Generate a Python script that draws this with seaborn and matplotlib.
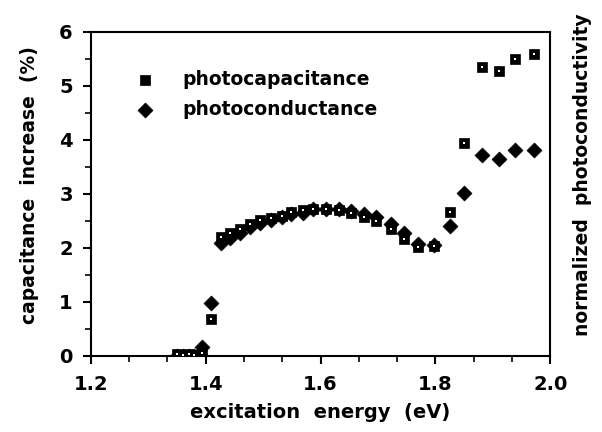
import numpy as np
import pandas as pd
import seaborn as sns
import matplotlib.pyplot as plt
from matplotlib.ticker import MultipleLocator, AutoMinorLocator

# excitation energy (eV)
energy = [1.350, 1.360, 1.370, 1.380, 1.394, 1.409, 1.427, 1.442, 1.459, 1.477,
          1.494, 1.514, 1.532, 1.549, 1.569, 1.587, 1.610, 1.632, 1.653, 1.675,
          1.697, 1.723, 1.745, 1.770, 1.798, 1.826, 1.850, 1.881, 1.910, 1.939,
          1.972]
# capacitance increase (%)
photocapacitance = [0.03, 0.02, 0.03, 0.02, 0.05, 0.68, 2.20, 2.27, 2.36, 2.45,
                    2.51, 2.55, 2.60, 2.66, 2.70, 2.72, 2.72, 2.70, 2.64, 2.58,
                    2.50, 2.36, 2.17, 2.02, 2.04, 2.66, 3.94, 5.36, 5.28, 5.50,
                    5.59]
# normalized photoconductivity (same scale)
photoconductance = [0.00, 0.00, 0.00, 0.00, 0.16, 0.99, 2.09, 2.18, 2.27, 2.38,
                    2.46, 2.52, 2.57, 2.62, 2.65, 2.72, 2.72, 2.72, 2.68, 2.62,
                    2.57, 2.44, 2.28, 2.07, 2.05, 2.41, 3.01, 3.72, 3.65, 3.81,
                    3.81]

df = pd.DataFrame({"energy": energy,
                   "photocapacitance": photocapacitance,
                   "photoconductance": photoconductance})

sns.set_style("white")
plt.rcParams['font.family'] = ['DejaVu Sans']
plt.rcParams['font.weight'] = 'bold'
plt.rcParams['text.color'] = 'black'
plt.rcParams['axes.labelcolor'] = 'black'
plt.rcParams['xtick.color'] = 'black'
plt.rcParams['ytick.color'] = 'black'

fig = plt.figure(figsize=(6.02, 4.32), dpi=100)
ax = fig.add_axes([0.151, 0.176, 0.763, 0.750])

sns.scatterplot(data=df, x="energy", y="photoconductance", marker="D", s=58,
                color="black", edgecolor="black", linewidth=0.5, ax=ax,
                label="photoconductance", zorder=3)
sns.scatterplot(data=df, x="energy", y="photocapacitance", marker="s", s=60,
                color="black", edgecolor="black", linewidth=0.5, ax=ax,
                label="photocapacitance", zorder=4)
# small white mark inside the squares
ax.scatter(df["energy"], df["photocapacitance"], marker="s", s=4,
           color="white", linewidth=0, zorder=5)

ax.set_xlim(1.2, 2.0)
ax.set_ylim(0, 6)
ax.xaxis.set_minor_locator(AutoMinorLocator(3))
ax.yaxis.set_major_locator(MultipleLocator(1))
ax.yaxis.set_minor_locator(AutoMinorLocator(2))
ax.set_xticks([1.2, 1.4, 1.6, 1.8, 2.0])
ax.set_xticklabels(["1.2", "1.4", "1.6", "1.8", "2.0"])
ax.xaxis.set_minor_locator(AutoMinorLocator(3))

ax.tick_params(which="major", direction="out", length=6, width=1.5,
               labelsize=14, pad=8, color="black", labelcolor="black")
ax.tick_params(which="minor", direction="out", length=4, width=1.2,
               color="black")
ax.tick_params(axis="y", pad=7)
ax.tick_params(bottom=True, left=True, which="both")
for sp in ax.spines.values():
    sp.set_linewidth(1.5)
    sp.set_color("black")

ax.set_xlabel("excitation  energy  (eV)", fontsize=14, fontweight="bold",
              labelpad=6, color="black")
ax.set_ylabel("")
ax.text(-0.133, 0.528, "capacitance  increase  (%)", transform=ax.transAxes,
        rotation=90, ha="center", va="center", fontsize=13.5,
        fontweight="bold", color="black")
ax.text(1.07, 0.56, "normalized  photoconductivity", transform=ax.transAxes,
        rotation=90, ha="center", va="center", fontsize=13.5,
        fontweight="bold", color="black")

handles, labels = ax.get_legend_handles_labels()
order = [labels.index("photocapacitance"), labels.index("photoconductance")]
leg = ax.legend([handles[i] for i in order], [labels[i] for i in order],
                loc="upper left", bbox_to_anchor=(0.04, 0.935), frameon=False,
                fontsize=13.5, handletextpad=1.0, labelspacing=0.6,
                markerscale=1.0)
for t in leg.get_texts():
    t.set_color("black")

fig.savefig("out.png", dpi=100)
